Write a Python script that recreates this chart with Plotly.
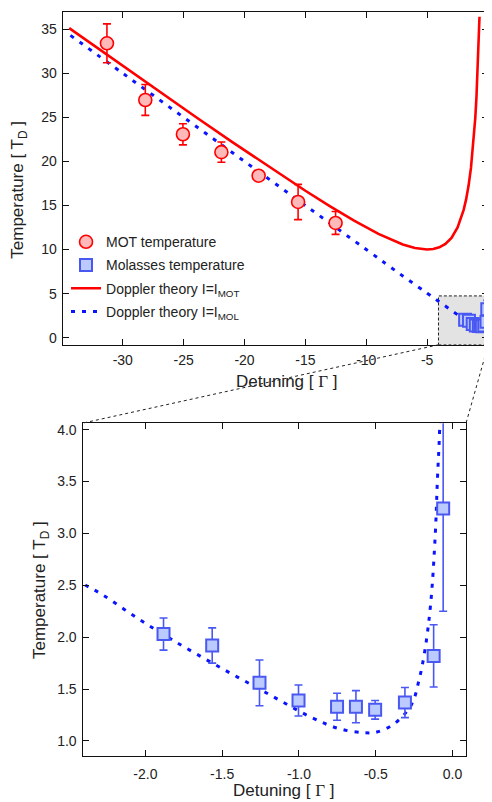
import plotly.graph_objects as go

# ---------------- data ----------------
mot_x = [-31.3, -28.15, -25.06, -21.9, -18.84, -15.6, -12.52]
mot_y = [33.4, 26.97, 23.08, 21.05, 18.38, 15.4, 13.02]
mot_err = [2.2, 1.75, 1.2, 1.15, 0.4, 2.0, 1.3]

mol_x = [-1.882, -1.565, -1.257, -1.003, -0.752, -0.629, -0.504, -0.31, -0.123, -0.061]
mol_y = [2.03, 1.92, 1.56, 1.39, 1.33, 1.33, 1.30, 1.37, 1.82, 3.24]
mol_err = [0.155, 0.17, 0.22, 0.15, 0.13, 0.155, 0.09, 0.145, 0.30, 0.99]

theory_mot_x = [-34.4, -32, -30, -27, -24, -21, -18, -15, -13, -11, -9, -8, -7, -6, -5.5, -5,
                -4.5, -4, -3.5, -3, -2.5, -2.2, -2, -1.8, -1.6, -1.4, -1.2, -1.05, -0.95, -0.85,
                -0.77, -0.7]
theory_mot_y = [35.13, 32.78, 30.83, 27.93, 25.04, 22.19, 19.39, 16.67, 14.92, 13.27, 11.78, 11.13,
                10.57, 10.17, 10.05, 10.0, 10.06, 10.25, 10.64, 11.33, 12.5, 13.56, 14.5, 15.69,
                17.23, 19.26, 22.03, 24.86, 27.27, 30.26, 33.24, 36.41]

theory_mol_x = [-34.3, -30, -25, -20, -15, -10, -7, -5, -4, -3,
                -2.41, -2.28, -2.054, -1.828, -1.527, -1.214, -0.923, -0.741, -0.579, -0.493,
                -0.375, -0.267, -0.22, -0.181, -0.142, -0.112, -0.099, -0.084,
                -0.07, -0.055, -0.045]
theory_mol_y = [34.3, 30.0, 25.0, 20.0, 15.0, 10.0, 7.0, 5.05, 4.07, 3.1,
                2.52, 2.41, 2.185, 1.977, 1.72, 1.465, 1.23, 1.119, 1.08, 1.086,
                1.17, 1.352, 1.576, 1.864, 2.329, 3.0, 3.5, 4.0,
                5.0, 6.8, 9.3]

top_xticks = [-30, -25, -20, -15, -10, -5, 0]
top_xticktext = ["-30", "-25", "-20", "-15", "-10", "-5", "0"]
top_yticks = [0, 5, 10, 15, 20, 25, 30, 35]
bot_xticks = [-2.0, -1.5, -1.0, -0.5, 0.0]
bot_xticktext = ["-2.0", "-1.5", "-1.0", "-0.5", "0.0"]
bot_yticks = [1.0, 1.5, 2.0, 2.5, 3.0, 3.5, 4.0]
bot_yticktext = ["1.0", "1.5", "2.0", "2.5", "3.0", "3.5", "4.0"]

# ---------------- styles ----------------
W, H = 492, 802
OFFX, OFFY = 6.5, 8  # page body margin compensation
FONT = "Liberation Sans, Arial, sans-serif"
RED = "#ff0000"
RED_FILL = "#ffb9b9"
BLUE_LINE = "#0a14ff"
BLUE_MK = "#4a58f2"
BLUE_FILL = "#bccbff"

def px(x):
    return (x - OFFX) / W

def py(y):
    return 1 - (y - OFFY) / H

fig = go.Figure()

for (xa, ya, show) in [("x", "y", True), ("x2", "y2", False)]:
    fig.add_trace(go.Scatter(
        x=theory_mot_x, y=theory_mot_y, mode="lines", line=dict(color=RED, width=2.6),
        name="Doppler theory I=I<sub>MOT</sub>", xaxis=xa, yaxis=ya, showlegend=show,
        legendrank=3, legendgroup="c"))
    fig.add_trace(go.Scatter(
        x=theory_mol_x, y=theory_mol_y, mode="lines", line_shape="spline",
        line=dict(color=BLUE_LINE, width=3, dash="4px,7px"),
        name="Doppler theory I=I<sub>MOL</sub>", xaxis=xa, yaxis=ya, showlegend=show,
        legendrank=4, legendgroup="d"))
    fig.add_trace(go.Scatter(
        x=mot_x, y=mot_y, mode="markers",
        error_y=dict(type="data", array=mot_err, color=RED, thickness=1.6, width=4),
        marker=dict(symbol="circle", size=13, color=RED_FILL, line=dict(color=RED, width=1.6)),
        name="MOT temperature", xaxis=xa, yaxis=ya, showlegend=show,
        legendrank=1, legendgroup="a"))
    fig.add_trace(go.Scatter(
        x=mol_x, y=mol_y, mode="markers",
        error_y=dict(type="data", array=mol_err, color=BLUE_MK, thickness=1.6, width=4),
        marker=dict(symbol="square", size=12, color=BLUE_FILL, line=dict(color=BLUE_MK, width=2)),
        name="Molasses temperature", xaxis=xa, yaxis=ya, showlegend=show,
        legendrank=2, legendgroup="b"))

axis_common = dict(showline=True, mirror="ticks", linecolor="#111", linewidth=1.3,
                   ticks="inside", ticklen=6, tickwidth=1.1, tickcolor="#111",
                   showgrid=False, zeroline=False, tickmode="array",
                   ticklabeloverflow="allow",
                   tickfont=dict(family=FONT, size=14, color="#222"))

top_l, top_r, top_t, top_b = 61.7, 490.7, 10.3, 344.0
bot_l, bot_r, bot_t, bot_b = 81.7, 468.3, 422.7, 756.7

fig.update_layout(
    width=W, height=H, margin=dict(l=0, r=0, t=0, b=0),
    paper_bgcolor="white", plot_bgcolor="white",
    font=dict(family=FONT, size=14, color="#222"),
    xaxis=dict(domain=[px(top_l), px(top_r)], range=[-34.93, 0.02], anchor="y",
               tickvals=top_xticks, ticktext=top_xticktext, ticklabelstandoff=2, **axis_common),
    yaxis=dict(domain=[py(top_b), py(top_t)], range=[-0.8, 36.92], anchor="x",
               tickvals=top_yticks, ticklabelstandoff=2, **axis_common),
    xaxis2=dict(domain=[px(bot_l), px(bot_r)], range=[-2.409, 0.088], anchor="y2",
                tickvals=bot_xticks, ticktext=bot_xticktext, ticklabelstandoff=5, **axis_common),
    yaxis2=dict(domain=[py(bot_b), py(bot_t)], range=[0.856, 4.063], anchor="x2",
                tickvals=bot_yticks, ticktext=bot_yticktext, ticklabelstandoff=2, **axis_common),
    legend=dict(x=px(65), y=py(225), xanchor="left", yanchor="top",
                bgcolor="rgba(0,0,0,0)", font=dict(family=FONT, size=14, color="#222"),
                traceorder="grouped", tracegroupgap=2, itemwidth=30),
    showlegend=True,
)

# grey zoom rectangle in top panel
fig.add_shape(type="rect", xref="x", yref="y", x0=-4.07, x1=0.02, y0=-0.8, y1=4.74,
              fillcolor="#e3e3e3", line=dict(color="#222", width=1, dash="3px,2px"),
              layer="below")
# connector lines
fig.add_shape(type="line", xref="paper", yref="paper",
              x0=px(440.7), y0=py(top_b), x1=px(bot_l), y1=py(bot_t),
              line=dict(color="#222", width=1, dash="3px,3px"))
fig.add_shape(type="line", xref="paper", yref="paper",
              x0=px(490.7), y0=py(top_b), x1=px(bot_r), y1=py(bot_t),
              line=dict(color="#222", width=1, dash="3px,3px"))

ytitle = "Temperature [ T<sub>D</sub> ]"
xtitle = 'Detuning [ <span style="font-family:Liberation Serif">Γ</span> ]'
tfont = dict(family=FONT, size=17, color="#222")
for (tx, ty, txt, ang) in [(18, 188, ytitle, -90), (40, 590, ytitle, -90),
                           (288, 381, xtitle, 0), (285, 791, xtitle, 0)]:
    fig.add_annotation(text=txt, x=px(tx), y=py(ty), xref="paper", yref="paper",
                       xanchor="center", yanchor="middle",
                       textangle=ang, showarrow=False, font=tfont)

fig.write_html("out.html")
